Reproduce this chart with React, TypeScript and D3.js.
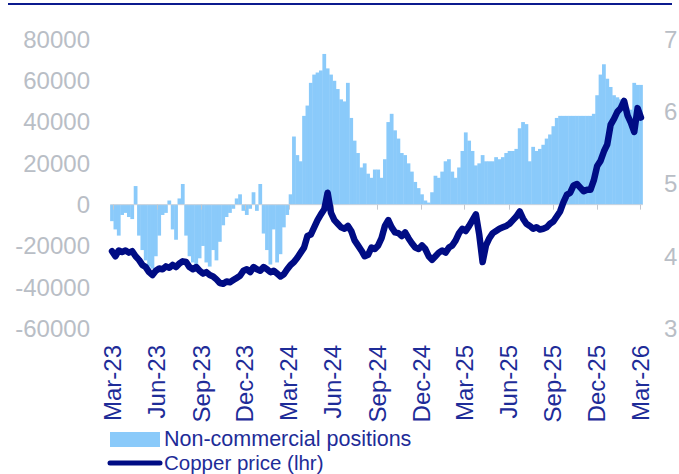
import React from "react";
import * as d3 from "d3";

const START_DATE = "2023-02-28";
const positions: number[] = [
  -8, -12, -15, -5, -4, -6, -7, 9, -15, -22, -27, -30, -31, -25, -15, -5, -4, 2, -12, -17,
  3, 10, -15, -25, -28, -30, -26, -20, -28, -30, -22, -27, -18, -10, -6, -4, -2, 3, 5, -3,
  -5, -2, 6, -3, 10, -14, -22, -29, -12, -28, -24, -11, -5, 5, 33, 24, 21, 43, 48, 59,
  63, 64, 65, 73, 66, 63, 60, 56, 51, 50, 59, 42, 31, 25, 18, 20, 15, 13, 17, 17,
  13, 22, 40, 44, 36, 32, 25, 24, 20, 16, 11, 8, 5, 2, 1, 6, 14, 13, 16, 21,
  22, 16, 13, 18, 26, 35, 31, 26, 19, 20, 24, 21, 21, 21, 23, 22, 23, 25, 26, 26,
  27, 37, 40, 39, 21, 28, 26, 27, 29, 32, 34, 38, 42, 43, 43, 43, 43, 43, 43, 43,
  43, 43, 43, 44, 53, 63, 68, 61, 57, 53, 52, 51, 49, 47, 46, 59, 58, 58,
].map((v) => v * 1000);

const copperPrice: number[] = [
  4.07, 4.0, 4.08, 4.06, 4.08, 4.05, 4.07, 4.0, 3.95, 3.88, 3.85, 3.78, 3.74, 3.8, 3.83, 3.82, 3.86, 3.84, 3.88, 3.85,
  3.9, 3.93, 3.92, 3.85, 3.82, 3.85, 3.8, 3.76, 3.78, 3.74, 3.72, 3.68, 3.63, 3.62, 3.65, 3.64, 3.67, 3.7, 3.73, 3.8,
  3.82, 3.78, 3.85, 3.82, 3.8, 3.85, 3.82, 3.78, 3.8, 3.76, 3.72, 3.75, 3.82, 3.88, 3.92, 3.98, 4.05, 4.12, 4.28, 4.3,
  4.4, 4.5, 4.58, 4.65, 4.88, 4.6, 4.5, 4.45, 4.4, 4.38, 4.42, 4.35, 4.22, 4.15, 4.08, 4.0, 4.02, 4.12, 4.1, 4.15,
  4.25, 4.42, 4.5, 4.4, 4.33, 4.32, 4.28, 4.33, 4.25, 4.18, 4.12, 4.1, 4.15, 4.1, 4.0, 3.95, 4.0, 4.05, 4.08, 4.05,
  4.12, 4.15, 4.22, 4.32, 4.38, 4.35, 4.42, 4.5, 4.58, 4.3, 3.92, 4.15, 4.25, 4.32, 4.35, 4.38, 4.4, 4.42, 4.45, 4.5,
  4.55, 4.62, 4.52, 4.45, 4.42, 4.38, 4.4, 4.37, 4.38, 4.4, 4.45, 4.48, 4.55, 4.62, 4.75, 4.85, 4.88, 4.98, 5.0, 4.95,
  4.9, 4.92, 4.92, 5.05, 5.25, 5.32, 5.45, 5.55, 5.82, 5.9, 6.0, 6.05, 6.15, 5.95, 5.85, 5.72, 6.05, 5.92,
];

const xTickDates = [
  "2023-03-01", "2023-06-01", "2023-09-01", "2023-12-01", "2024-03-01", "2024-06-01", "2024-09-01",
  "2024-12-01", "2025-03-01", "2025-06-01", "2025-09-01", "2025-12-01", "2026-03-01",
];
const xTickLabels = [
  "Mar-23", "Jun-23", "Sep-23", "Dec-23", "Mar-24", "Jun-24", "Sep-24",
  "Dec-24", "Mar-25", "Jun-25", "Sep-25", "Dec-25", "Mar-26",
];
const leftTicks = [80000, 60000, 40000, 20000, 0, -20000, -40000, -60000];
const rightTicks = [7, 6, 5, 4, 3];
const legendLabels = ["Non-commercial positions", "Copper price (lhr)"];

const FONT = "'Liberation Sans', Arial, sans-serif";
const BAR = "#8acafa";
const NAVY = "#000c84";
const GREY = "#b9bec6";
const LABEL = "#1e2c98";

export default function App() {
  const parse = d3.utcParse("%Y-%m-%d");
  const start = parse(START_DATE)!;
  const dates = positions.map((_, i) => d3.utcWeek.offset(start, i));

  const x = d3
    .scaleUtc()
    .domain([parse("2023-03-01")!, parse("2026-03-01")!])
    .range([112.5, 640]);
  const yL = d3.scaleLinear().domain([-60000, 80000]).range([328.5, 39.5]);
  const yR = d3.scaleLinear().domain([3, 7]).range([328.5, 39.5]);

  const step = x(dates[1]) - x(dates[0]);
  const barW = step + 0.4;

  const line = d3
    .line<number>()
    .x((_, i) => x(dates[i]))
    .y((d) => yR(d))
    .curve(d3.curveLinear);

  const x0 = x(dates[0]) - step / 2;
  const x1 = x(dates[dates.length - 1]) + step / 2;

  return (
    <svg
      width={679}
      height={474}
      style={{ position: "absolute", left: 0, top: 0, background: "#fff" }}
      fontFamily={FONT}
    >
      <line x1={8} x2={672} y1={4} y2={4} stroke="#0b1a8e" strokeWidth={2.2} />

      {leftTicks.map((t) => (
        <text key={t} x={90} y={yL(t)} dy="0.35em" textAnchor="end" fontSize={24} fill={GREY}>
          {t}
        </text>
      ))}
      {rightTicks.map((t) => (
        <text key={t} x={664} y={yR(t)} dy="0.35em" textAnchor="start" fontSize={24} fill={GREY}>
          {t}
        </text>
      ))}

      {positions.map((v, i) => {
        const cx = x(dates[i]);
        const y0 = yL(0);
        const yv = yL(v);
        return (
          <rect
            key={i}
            x={cx - barW / 2}
            y={Math.min(y0, yv)}
            width={barW}
            height={Math.abs(yv - y0)}
            fill={BAR}
          />
        );
      })}

      <line x1={x0} x2={x1} y1={yL(0)} y2={yL(0)} stroke="#c9d2dc" strokeWidth={1} />
      {xTickDates.map((d) => {
        const tx = Math.round(x(parse(d)!)) + 0.5;
        return <line key={d} x1={tx} x2={tx} y1={yL(0)} y2={yL(0) + 5} stroke="#c4c8cf" strokeWidth={1} />;
      })}

      <path
        d={line(copperPrice) || ""}
        fill="none"
        stroke={NAVY}
        strokeWidth={6.5}
        strokeLinejoin="round"
        strokeLinecap="round"
      />

      {xTickDates.map((d, i) => {
        const tx = x(parse(d)!);
        return (
          <text
            key={d}
            transform={`translate(${tx},345) rotate(-90)`}
            textAnchor="end"
            dominantBaseline="central"
            fontSize={24}
            fill={LABEL}
          >
            {xTickLabels[i]}
          </text>
        );
      })}

      <rect x={110} y={432} width={50} height={15} fill={BAR} />
      <text x={164} y={446} fontSize={21.5} fill={LABEL}>
        {legendLabels[0]}
      </text>
      <line x1={110} x2={160} y1={463} y2={463} stroke={NAVY} strokeWidth={5} strokeLinecap="round" />
      <text x={164} y={469.5} fontSize={20.5} fill={LABEL}>
        {legendLabels[1]}
      </text>
    </svg>
  );
}
